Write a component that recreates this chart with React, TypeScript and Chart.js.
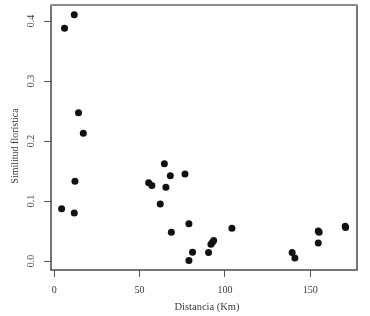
import React, { useEffect, useRef } from "react";
import { Chart, registerables } from "chart.js";

Chart.register(...registerables);

const distanceKm = [11.7, 6.0, 14.2, 17.0, 12.1, 4.3, 11.7, 55.3, 57.2, 64.5, 68.0, 65.4, 62.1, 76.6, 68.6, 78.9, 81.0, 78.9, 90.4, 91.8, 92.6, 93.4, 104.1, 139.4, 141.0, 154.7, 155.2, 154.7, 170.5, 170.7];
const similarity = [0.4105, 0.388, 0.247, 0.213, 0.133, 0.087, 0.08, 0.1305, 0.126, 0.162, 0.142, 0.123, 0.095, 0.145, 0.048, 0.062, 0.0145, 0.001, 0.014, 0.028, 0.031, 0.034, 0.0545, 0.014, 0.005, 0.05, 0.048, 0.03, 0.058, 0.056];
const xTickValues = [0, 50, 100, 150];
const yTickValues = [0, 0.1, 0.2, 0.3, 0.4];
const xTitle = "Distancia (Km)";
const yTitle = "Similitud florística";

const FONT = '"Liberation Serif", "DejaVu Serif", serif';

export default function App() {
  const ref = useRef<HTMLCanvasElement | null>(null);
  useEffect(() => {
    document.body.style.margin = "0";
    const canvas = ref.current;
    if (!canvas) return;
    const labelsPlugin = {
      id: "rLabels",
      afterDraw(chart: any) {
        const ctx = chart.ctx;
        const { left, right, top, bottom } = chart.chartArea;
        ctx.save();
        // box
        ctx.strokeStyle = "#4a4a4a";
        ctx.lineWidth = 1.5;
        ctx.beginPath();
        ctx.moveTo(left, top);
        ctx.lineTo(left, bottom);
        ctx.lineTo(right, bottom);
        ctx.lineTo(right, top);
        ctx.stroke();
        ctx.strokeStyle = "#8c8c8c";
        ctx.lineWidth = 2;
        ctx.beginPath();
        ctx.moveTo(left - 0.75, top);
        ctx.lineTo(right + 0.75, top);
        ctx.stroke();

        ctx.fillStyle = "#3a3a3a";
        ctx.font = `10px ${FONT}`;
        ctx.textAlign = "center";
        ctx.textBaseline = "middle";
        const xs = chart.scales.x;
        xs.ticks.forEach((t: any) => {
          ctx.fillText(String(t.value), xs.getPixelForValue(t.value), 290);
        });
        const ys = chart.scales.y;
        ys.ticks.forEach((t: any) => {
          ctx.save();
          ctx.translate(31, ys.getPixelForValue(t.value));
          ctx.rotate(-Math.PI / 2);
          ctx.fillText(Number(t.value).toFixed(1), 0, 0);
          ctx.restore();
        });
        ctx.font = `10.5px ${FONT}`;
        ctx.fillText(xTitle, (left + right) / 2 + 3, 307);
        ctx.save();
        ctx.translate(15, 146);
        ctx.rotate(-Math.PI / 2);
        ctx.font = `10px ${FONT}`;
        ctx.fillText(yTitle, 0, 0);
        ctx.restore();
        ctx.restore();
      },
    };
    const chart = new Chart(canvas, {
      type: "scatter",
      data: {
        datasets: [
          {
            data: distanceKm.map((x, i) => ({ x, y: similarity[i] })),
            backgroundColor: "#111111",
            borderColor: "#111111",
            pointRadius: 3.5,
            pointHoverRadius: 3.5,
            borderWidth: 0,
          },
        ],
      },
      options: {
        responsive: false,
        animation: false,
        events: [],
        layout: { padding: { top: 5, right: 13, left: 0, bottom: 0 } },
        plugins: { legend: { display: false }, tooltip: { enabled: false } },
        scales: {
          x: {
            type: "linear",
            min: -1.93,
            max: 177.4,
            afterBuildTicks: (s: any) => {
              s.ticks = xTickValues.map((v) => ({ value: v }));
            },
            afterFit: (s: any) => {
              s.height = 46;
            },
            ticks: { display: false },
            border: { display: false },
            grid: { drawOnChartArea: false, drawTicks: true, tickLength: 7, color: "#555555", lineWidth: 1 },
          },
          y: {
            type: "linear",
            min: -0.015,
            max: 0.4267,
            afterBuildTicks: (s: any) => {
              s.ticks = yTickValues.map((v) => ({ value: v }));
            },
            afterFit: (s: any) => {
              s.width = 51;
            },
            ticks: { display: false },
            border: { display: false },
            grid: { drawOnChartArea: false, drawTicks: true, tickLength: 7, color: "#555555", lineWidth: 1 },
          },
        },
      },
      plugins: [labelsPlugin],
    });
    return () => chart.destroy();
  }, []);
  return (
    <div style={{ width: 370, height: 316, background: "#fff" }}>
      <canvas ref={ref} width={370} height={316} />
    </div>
  );
}
